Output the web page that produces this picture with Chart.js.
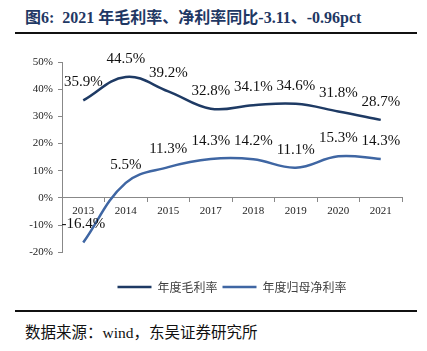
<!DOCTYPE html>
<html lang="zh">
<head>
<meta charset="UTF-8">
<title>毛利率、净利率</title>
<script src="https://cdn.jsdelivr.net/npm/chart.js"></script>
<style>
  body { margin: 0; background: #fff; }
  #wrap { position: relative; width: 427px; height: 351px; overflow: hidden; }
  #title {
    position: absolute; left: 25px; top: 4px;
    font-family: "Liberation Serif", "Noto Sans CJK SC", serif;
    font-weight: bold; font-size: 16px; color: #1f3864; white-space: nowrap;
  }
  .rule { position: absolute; left: 15px; width: 402px; height: 2px; background: #111; }
  #source {
    position: absolute; left: 25px; top: 320px;
    font-family: "Liberation Serif", "Noto Sans CJK SC", serif;
    font-size: 15.5px; color: #111; white-space: nowrap;
  }
  #box { position: absolute; left: 0; top: 40px; width: 427px; height: 263px; }
</style>
</head>
<body>
<div id="wrap">
  <div id="title">图6:&nbsp; 2021 年毛利率、净利率同比-3.11、-0.96pct</div>
  <div class="rule" style="top:32px"></div>
  <div id="box"><canvas id="c"></canvas></div>
  <div class="rule" style="top:310px"></div>
  <div id="source">数据来源：wind，东吴证券研究所</div>
</div>
<script>
const years = ['2013', '2014', '2015', '2017', '2018', '2019', '2020', '2021'];
const grossMargin = [35.9, 44.5, 39.2, 32.8, 34.1, 34.6, 31.8, 28.7];
const netMargin = [-16.4, 5.5, 11.3, 14.3, 14.2, 11.1, 15.3, 14.3];
const yTicks = [-20, -10, 0, 10, 20, 30, 40, 50];

// 数据标签
const valueLabels = {
  id: 'valueLabels',
  afterDatasetsDraw(chart) {
    const ctx = chart.ctx;
    ctx.save();
    ctx.font = '15px "Liberation Serif", serif';
    ctx.fillStyle = '#111';
    ctx.textAlign = 'center';
    ctx.textBaseline = 'middle';
    chart.data.datasets.forEach((ds, i) => {
      chart.getDatasetMeta(i).data.forEach((pt, j) => {
        ctx.fillText(ds.data[j].toFixed(1) + '%', pt.x, pt.y - 18);
      });
    });
    ctx.restore();
  }
};

new Chart(document.getElementById('c'), {
  type: 'line',
  data: {
    labels: years,
    datasets: [
      {
        label: '年度毛利率',
        data: grossMargin,
        borderColor: '#1e3a64',
        backgroundColor: '#1e3a64',
        borderWidth: 2.5,
        pointRadius: 0,
        pointStyle: 'line',
        tension: 0.4
      },
      {
        label: '年度归母净利率',
        data: netMargin,
        borderColor: '#3f66a3',
        backgroundColor: '#3f66a3',
        borderWidth: 2.5,
        pointRadius: 0,
        pointStyle: 'line',
        tension: 0.4
      }
    ]
  },
  options: {
    responsive: true,
    maintainAspectRatio: false,
    animation: false,
    layout: { padding: { left: 0, right: 25, top: 22, bottom: 0 } },
    plugins: {
      tooltip: { enabled: false },
      legend: {
        position: 'bottom',
        fullSize: false,
        // 空标题只用来在图例上方留出间距
        title: { display: true, text: ' ', font: { size: 9 }, padding: { top: 13, bottom: 0 } },
        labels: {
          usePointStyle: true,
          pointStyleWidth: 34,
          color: '#404040',
          font: { family: '"Noto Sans CJK SC", sans-serif', size: 12 },
          padding: 5
        }
      }
    },
    scales: {
      x: {
        position: { y: 0 },
        offset: true,
        grid: { display: true, offset: true, drawOnChartArea: false, tickLength: 4, color: '#888' },
        border: { color: '#888' },
        ticks: { color: '#222', font: { family: '"Liberation Serif", serif', size: 11 }, padding: 3, maxRotation: 0 }
      },
      y: {
        min: -20,
        max: 50,
        afterFit(scale) { scale.width = 62; },
        afterBuildTicks(scale) { scale.ticks = yTicks.map(v => ({ value: v })); },
        grid: { drawOnChartArea: false, tickLength: 4, color: '#888' },
        border: { color: '#888' },
        ticks: {
          color: '#222',
          font: { family: '"Liberation Serif", serif', size: 11 },
          padding: 5,
          callback: v => v + '%'
        }
      }
    }
  },
  plugins: [valueLabels]
});
</script>
</body>
</html>
